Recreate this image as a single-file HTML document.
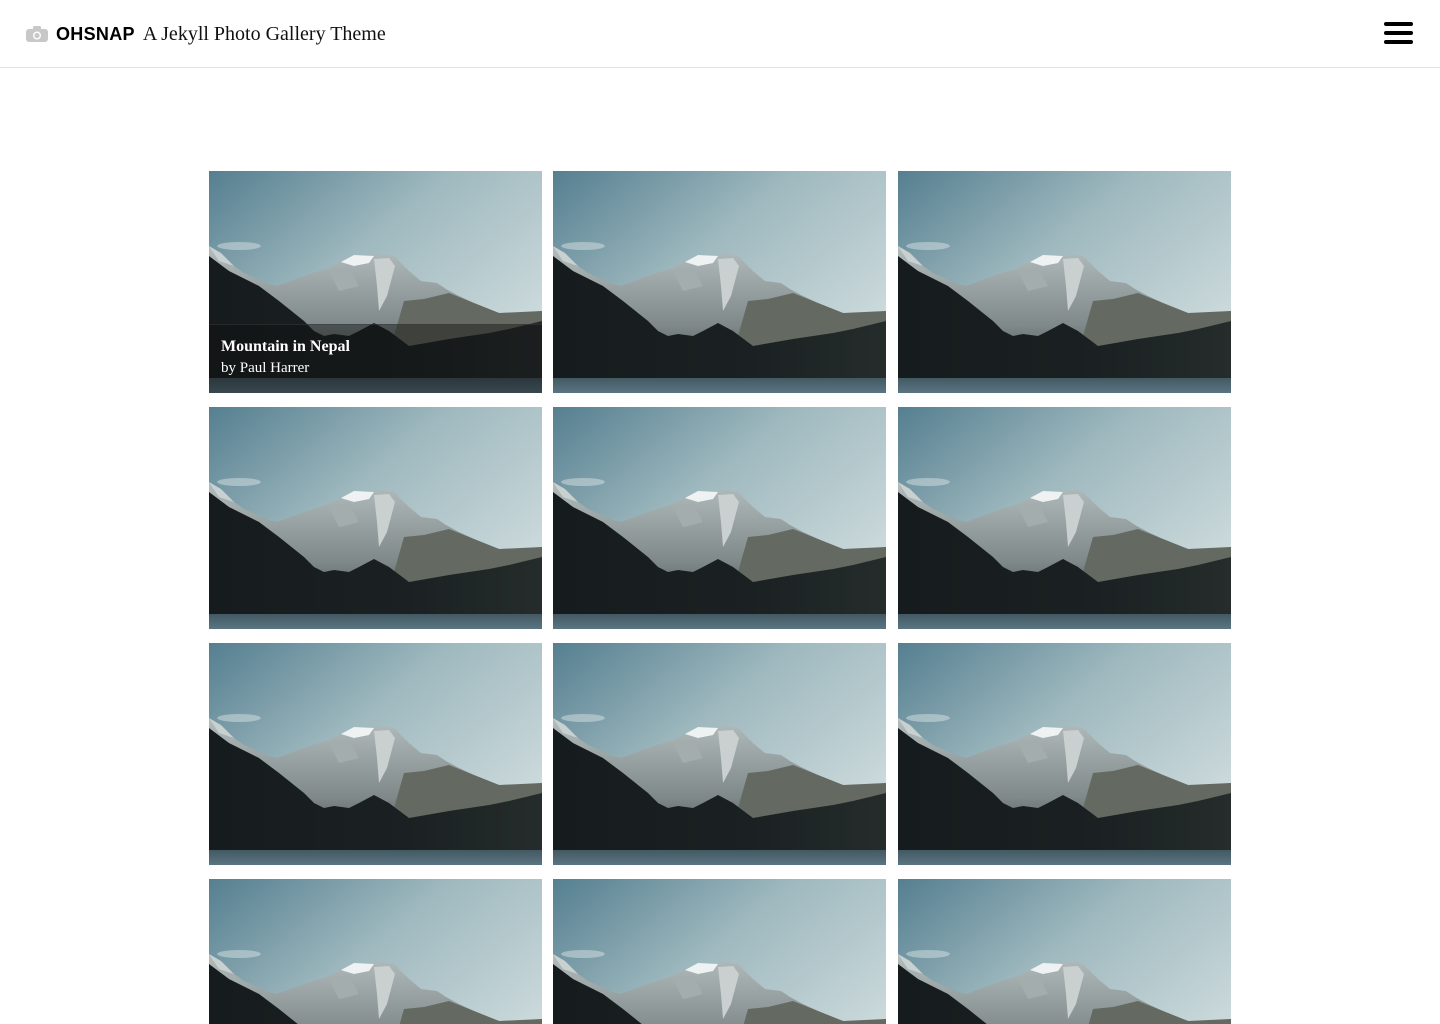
<!DOCTYPE html>
<html><head><meta charset="utf-8"><style>
html,body{margin:0;padding:0;background:#fff;width:1440px;height:1024px;overflow:hidden}
#wrap{position:relative;width:1440px;height:1024px;overflow:hidden}
header{position:absolute;left:0;top:0;width:1440px;height:67px;border-bottom:1px solid #e3e3e3;background:#fff}
.logo{position:absolute;left:26px;top:22px;height:24px;display:flex;align-items:center}
.brand{font-family:"Liberation Sans",sans-serif;font-weight:bold;font-size:18px;color:#000;margin-left:8px;letter-spacing:0.3px}
.tag{font-family:"Liberation Serif",serif;font-size:20px;color:#111;margin-left:8px}
.menu{position:absolute;left:1384px;top:20px;width:30px;height:26px}
.menu span{position:absolute;left:0;width:29px;height:4px;background:#000;border-radius:2px}
.tile{position:absolute;width:333px;height:222px;overflow:hidden}
.tile svg{display:block}
.cap{position:absolute;left:0;top:153px;width:333px;height:69px;background:rgba(15,15,15,0.45);border-top:1px solid rgba(60,60,60,0.5)}
.cap .t{position:absolute;left:12px;top:13px;font-family:"Liberation Serif",serif;font-weight:bold;font-size:16px;color:#fff}
.cap .a{position:absolute;left:12px;top:35px;font-family:"Liberation Serif",serif;font-size:15px;color:#fff}
</style></head><body>
<svg width="0" height="0" style="position:absolute">
<defs>
<linearGradient id="sky" x1="0" y1="0" x2="1" y2="0.8">
<stop offset="0" stop-color="#557f90"/><stop offset="0.45" stop-color="#9fb9bf"/><stop offset="1" stop-color="#d3dfe0"/></linearGradient>
<linearGradient id="rock" x1="0" y1="0" x2="0" y2="1">
<stop offset="0" stop-color="#b4bdbd"/><stop offset="0.6" stop-color="#7f898a"/><stop offset="1" stop-color="#4a5253"/></linearGradient>
<linearGradient id="forest" x1="0" y1="0" x2="1" y2="0">
<stop offset="0" stop-color="#161c1d"/><stop offset="0.6" stop-color="#1b2122"/><stop offset="1" stop-color="#252c2b"/></linearGradient>
<linearGradient id="water" x1="0" y1="0" x2="0" y2="1">
<stop offset="0" stop-color="#435962"/><stop offset="1" stop-color="#5a7582"/></linearGradient>
<g id="mtn">
<rect width="333" height="222" fill="url(#sky)"/>
<ellipse cx="30" cy="75" rx="22" ry="4" fill="#d7e2e4" opacity="0.5"/>
<polygon points="0,75 15,88 35,102 60,113 68,115 100,103 120,97 133,90 143,85 160,84 175,83 185,85 200,100 212,110 228,112 237,118 250,125 265,132 285,140 293,143 310,142 333,140 333,207 0,207" fill="url(#rock)"/>
<polygon points="0,75 12,82 25,95 10,90" fill="#c8d0d0"/>
<polygon points="132,91 145,84 165,85 160,92 145,95" fill="#eef2f2"/>
<polygon points="165,88 180,87 186,95 178,125 170,140 168,115" fill="#c9d0cf"/>
<polygon points="120,100 140,96 150,115 130,120" fill="#a4adad"/>
<polygon points="195,130 215,128 240,122 265,132 290,142 333,140 333,175 200,180 185,165" fill="#646a62"/>
<polygon points="0,85 20,100 50,115 70,130 95,150 105,160 115,165 125,163 140,165 150,160 165,152 180,160 200,175 240,168 280,162 300,158 333,150 333,207 0,207" fill="url(#forest)"/>
<rect x="0" y="207" width="333" height="15" fill="url(#water)"/>
</g>
</defs></svg>
<div id="wrap">
<header>
<div class="logo">
<svg width="22" height="16" viewBox="0 0 22 16"><rect x="0" y="3" width="22" height="13" rx="3" fill="#c8c8c8"/><rect x="7" y="0" width="8" height="5" rx="1.5" fill="#c8c8c8"/><circle cx="11" cy="9.5" r="4" fill="#fff"/><circle cx="11" cy="9.5" r="2.6" fill="#c8c8c8"/></svg>
<span class="brand">OHSNAP</span>
<span class="tag">A Jekyll Photo Gallery Theme</span>
</div>
<div class="menu"><span style="top:2px"></span><span style="top:11px"></span><span style="top:20px"></span></div>
</header>
<div id="grid"></div>
</div>
<script>
var cols=[209,553,898], rows=[171,407,643,879];
var grid=document.getElementById('grid');
var i=0;
rows.forEach(function(y){cols.forEach(function(x){
var th=Math.min(222,1024-y);
var d=document.createElement('div');
d.className='tile';
d.style.left=x+'px';d.style.top=y+'px';
d.style.height=th+'px';


var h='<svg width="333" height="'+th+'" viewBox="0 0 333 '+th+'"><use href="#mtn"/></svg>';
if(i===0){h+='<div class="cap"><div class="t">Mountain in Nepal</div><div class="a">by Paul Harrer</div></div>';}
d.innerHTML=h;
grid.appendChild(d);i++;
});});
</script>
</body></html>
